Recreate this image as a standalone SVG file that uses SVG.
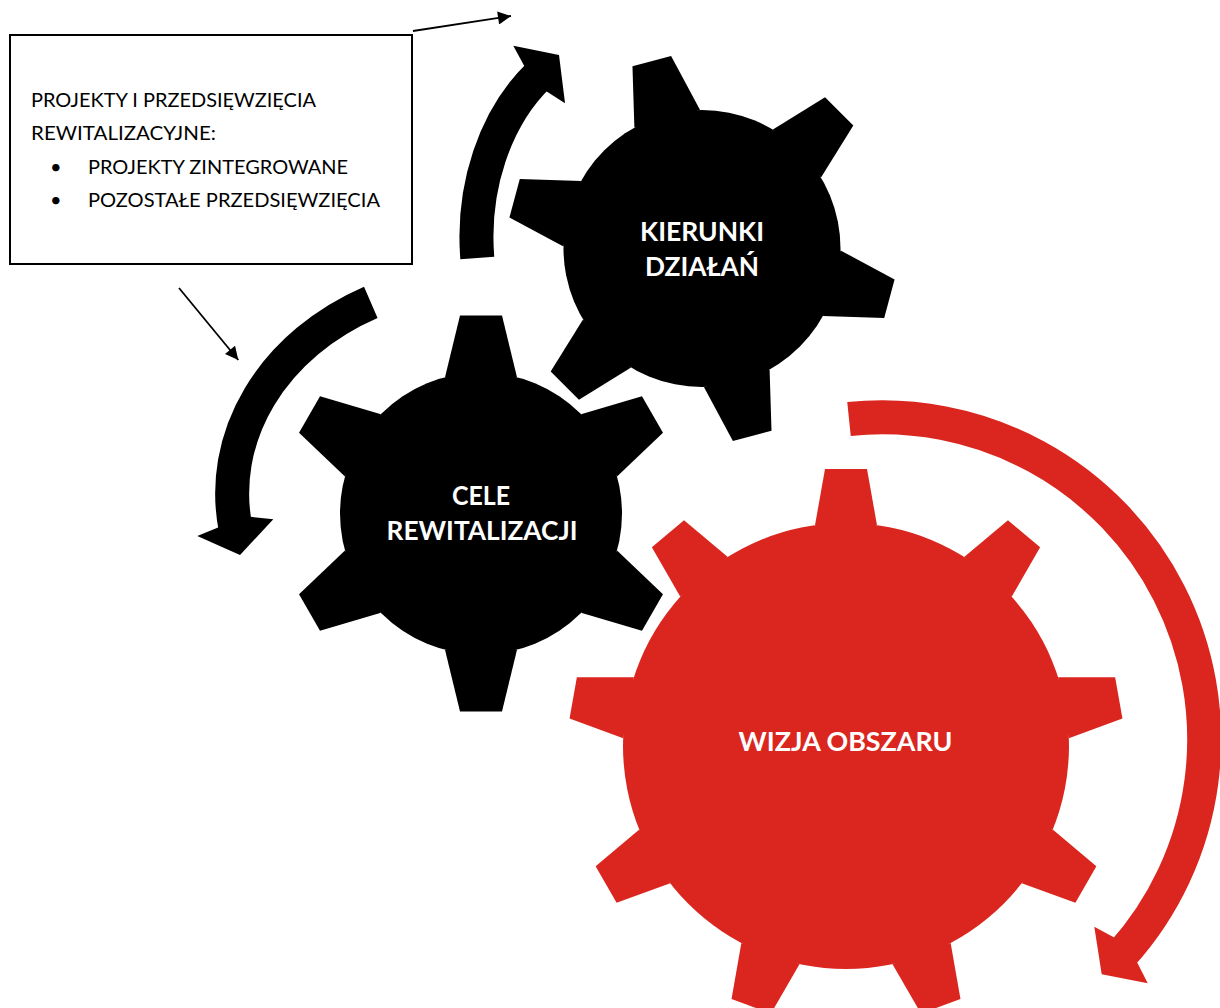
<svg xmlns="http://www.w3.org/2000/svg" width="1220" height="1008" viewBox="0 0 1220 1008">
  <style>
    .blk { fill: #000000; }
    .red { fill: #DA261F; }
    .lbl { font-family: Lato, "Open Sans", "Liberation Sans", sans-serif; font-weight: bold; font-size: 27px; fill: #FFFFFF; text-anchor: middle; }
    .box { fill: #FFFFFF; stroke: #000000; stroke-width: 2; }
    .bt { font-family: Lato, "Open Sans", "Liberation Sans", sans-serif; font-size: 20px; fill: #000000; }
    .thin { fill: none; stroke: #000000; stroke-width: 1.8; }
    .arcK { fill: none; stroke: #000000; stroke-width: 34; stroke-linecap: butt; }
    .arcR { fill: none; stroke: #DA261F; stroke-width: 34; stroke-linecap: butt; }
  </style>
  <defs>
    <polygon id="tooth1" points="-36,-136.3 -21,-198 21,-198 36,-136.3"/>
    <polygon id="tooth2" points="-34,-134.3 -20,-194 20,-194 34,-134.3"/>
    <polygon id="tooth3" points="-31,-220.8 -21,-277 21,-277 31,-220.8"/>
    <marker id="ah" viewBox="0 0 10 10" refX="10" refY="5" markerWidth="18" markerHeight="13" markerUnits="userSpaceOnUse" orient="auto">
      <path d="M0,0 L10,5 L0,10 z" fill="#000000"/>
    </marker>
  </defs>

  <g id="gear-kierunki" class="blk">
    <g transform="translate(702,248.5)">
      <circle r="138.5"/>
      <use href="#tooth2" transform="rotate(-15)"/>
      <use href="#tooth2" transform="rotate(45)"/>
      <use href="#tooth2" transform="rotate(105)"/>
      <use href="#tooth2" transform="rotate(165)"/>
      <use href="#tooth2" transform="rotate(225)"/>
      <use href="#tooth2" transform="rotate(285)"/>
    </g>
    <text class="lbl" x="702" y="241" textLength="124" lengthAdjust="spacingAndGlyphs">KIERUNKI</text>
    <text class="lbl" x="702" y="275.7" textLength="114" lengthAdjust="spacingAndGlyphs">DZIAŁAŃ</text>
  </g>

  <g id="gear-cele" class="blk">
    <g transform="translate(481,513.5)">
      <circle r="141"/>
      <use href="#tooth1" transform="rotate(0)"/>
      <use href="#tooth1" transform="rotate(60)"/>
      <use href="#tooth1" transform="rotate(120)"/>
      <use href="#tooth1" transform="rotate(180)"/>
      <use href="#tooth1" transform="rotate(240)"/>
      <use href="#tooth1" transform="rotate(300)"/>
    </g>
    <text class="lbl" x="481" y="505.3" textLength="58" lengthAdjust="spacingAndGlyphs">CELE</text>
    <text class="lbl" x="482" y="540" textLength="191" lengthAdjust="spacingAndGlyphs">REWITALIZACJI</text>
  </g>

  <g id="gear-wizja" class="red">
    <g transform="translate(846,746)">
      <circle r="223"/>
      <use href="#tooth3" transform="rotate(0)"/>
      <use href="#tooth3" transform="rotate(40)"/>
      <use href="#tooth3" transform="rotate(80)"/>
      <use href="#tooth3" transform="rotate(120)"/>
      <use href="#tooth3" transform="rotate(160)"/>
      <use href="#tooth3" transform="rotate(200)"/>
      <use href="#tooth3" transform="rotate(240)"/>
      <use href="#tooth3" transform="rotate(280)"/>
      <use href="#tooth3" transform="rotate(320)"/>
    </g>
    <text class="lbl" x="845.5" y="751" textLength="214" lengthAdjust="spacingAndGlyphs">WIZJA OBSZARU</text>
  </g>

  <g id="box-projekty">
    <rect class="box" x="10" y="35" width="402" height="229"/>
    <text class="bt" x="31" y="107.3" textLength="285" lengthAdjust="spacingAndGlyphs">PROJEKTY I PRZEDSIĘWZIĘCIA</text>
    <text class="bt" x="31" y="140" textLength="185" lengthAdjust="spacingAndGlyphs">REWITALIZACYJNE:</text>
    <text class="bt" x="50" y="174.3">•</text>
    <text class="bt" x="88" y="174.3" textLength="260" lengthAdjust="spacingAndGlyphs">PROJEKTY ZINTEGROWANE</text>
    <text class="bt" x="50" y="206.7">•</text>
    <text class="bt" x="88" y="206.7" textLength="292" lengthAdjust="spacingAndGlyphs">POZOSTAŁE PRZEDSIĘWZIĘCIA</text>
  </g>

  <g id="connectors">
    <path class="arcK" d="M477.3,258 A155,202 0 0 1 538.6,75.3"/>
    <polygon class="blk" points="513.3,45.7 559,55 565,103.3 546.7,91.6 524,65.6"/>
    <path class="arcK" d="M370.8,302.3 A256,215 0 0 0 235.5,528"/>
    <polygon class="blk" points="197.3,536 240,555 273.3,519.3 250.5,516.8 218.1,527.4"/>
    <path class="arcR" d="M849,419 A322,322 0 0 1 1121.7,954.5"/>
    <polygon class="red" points="1094.3,926.7 1101.7,974.3 1147.7,983.3 1137.5,963.1 1114.2,937.5"/>
    <line class="thin" x1="413" y1="31" x2="511" y2="16" marker-end="url(#ah)"/>
    <line class="thin" x1="179" y1="288" x2="238.3" y2="360" marker-end="url(#ah)"/>
  </g>
</svg>
